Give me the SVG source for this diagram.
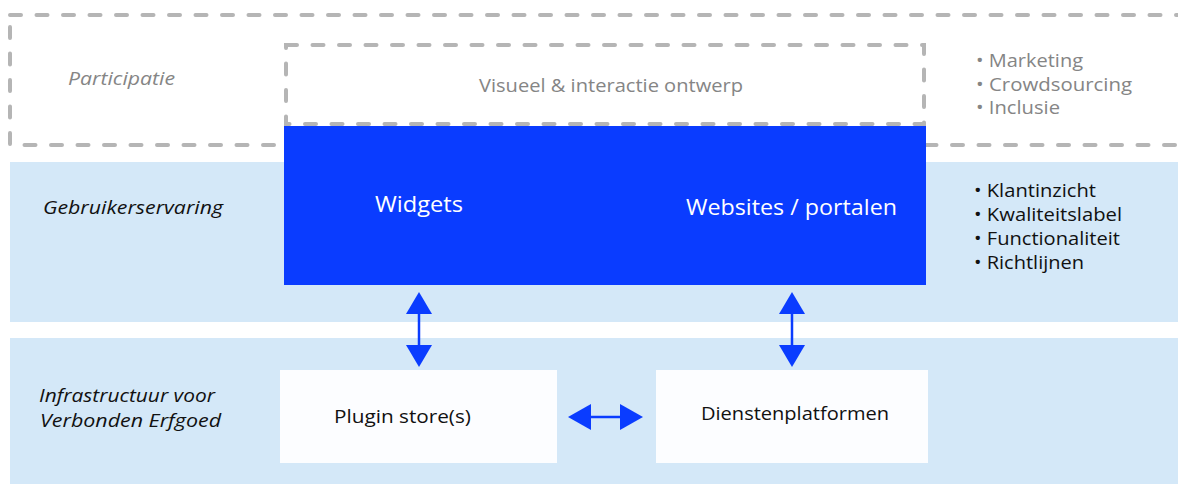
<svg xmlns="http://www.w3.org/2000/svg" width="1178" height="484" viewBox="0 0 1178 484">
<defs>
<style>
.t{font-family:"Open Sans","Noto Sans","Liberation Sans",sans-serif;}
.dash{fill:none;stroke:#b5b5b5;stroke-width:4;stroke-dasharray:11 15.5;stroke-linecap:round;}
.band{fill:#d4e8f8;}
.box{fill:#fcfdff;}
.gray{fill:#858585;}
.blk{fill:#111;}
.wht{fill:#fff;}
.arr{stroke:#0a3cff;stroke-width:2.5;fill:none;}
.head{fill:#0a3cff;}
</style>
</defs>
<rect width="1178" height="484" fill="#fff"/>
<g id="participatie">
<rect class="dash" x="10" y="15" width="1180" height="130"/>
<text class="t gray" x="68" y="85" font-size="17.5" font-style="italic" font-weight="500" textLength="107" lengthAdjust="spacingAndGlyphs">Participatie</text>
<text class="t gray" font-size="18">
<tspan x="976" y="67" textLength="107" lengthAdjust="spacingAndGlyphs">• Marketing</tspan>
<tspan x="976" y="91" textLength="156" lengthAdjust="spacingAndGlyphs">• Crowdsourcing</tspan>
<tspan x="976" y="114" textLength="84" lengthAdjust="spacingAndGlyphs">• Inclusie</tspan>
</text>
</g>
<g id="gebruikerservaring">
<rect class="band" x="10" y="162" width="1168" height="160"/>
<text class="t blk" x="43" y="214" font-size="17.5" font-style="italic" font-weight="500" textLength="180" lengthAdjust="spacingAndGlyphs">Gebruikerservaring</text>
<text class="t blk" font-size="18" font-weight="500">
<tspan x="974" y="197" textLength="122" lengthAdjust="spacingAndGlyphs">• Klantinzicht</tspan>
<tspan x="974" y="221" textLength="148" lengthAdjust="spacingAndGlyphs">• Kwaliteitslabel</tspan>
<tspan x="974" y="245" textLength="146" lengthAdjust="spacingAndGlyphs">• Functionaliteit</tspan>
<tspan x="974" y="269" textLength="110" lengthAdjust="spacingAndGlyphs">• Richtlijnen</tspan>
</text>
</g>
<g id="infrastructuur">
<rect class="band" x="10" y="338" width="1168" height="146"/>
<text class="t blk" font-size="17.5" font-style="italic" font-weight="500">
<tspan x="39" y="402" textLength="176" lengthAdjust="spacingAndGlyphs">Infrastructuur voor</tspan>
<tspan x="40" y="427" textLength="181" lengthAdjust="spacingAndGlyphs">Verbonden Erfgoed</tspan>
</text>
</g>
<g id="ontwerp">
<rect class="dash" x="286" y="45" width="638" height="79"/>
<text class="t gray" x="479" y="92" font-size="18" textLength="264" lengthAdjust="spacingAndGlyphs">Visueel &amp; interactie ontwerp</text>
</g>
<g id="frontend">
<rect x="284" y="126" width="642" height="159" fill="#0a3cff"/>
<text class="t wht" x="375" y="212" font-size="21" textLength="88" lengthAdjust="spacingAndGlyphs">Widgets</text>
<text class="t wht" x="686" y="215" font-size="21" textLength="211" lengthAdjust="spacingAndGlyphs">Websites / portalen</text>
</g>
<g id="plugin-store">
<rect class="box" x="280" y="370" width="277" height="93"/>
<text class="t blk" x="334" y="423" font-size="18" font-weight="500" textLength="137" lengthAdjust="spacingAndGlyphs">Plugin store(s)</text>
</g>
<g id="dienstenplatformen">
<rect class="box" x="656" y="370" width="272" height="93"/>
<text class="t blk" x="701" y="420" font-size="18" font-weight="500" textLength="188" lengthAdjust="spacingAndGlyphs">Dienstenplatformen</text>
</g>
<g id="connectors">
<line class="arr" x1="419" y1="310" x2="419" y2="346"/>
<polygon class="head" points="419,292 432,314 406,314"/>
<polygon class="head" points="419,367 432,345 406,345"/>
<line class="arr" x1="792" y1="310" x2="792" y2="346"/>
<polygon class="head" points="792,292 805,314 779,314"/>
<polygon class="head" points="792,367 805,345 779,345"/>
<line class="arr" x1="585" y1="417" x2="626" y2="417"/>
<polygon class="head" points="568,417 591,404 591,430"/>
<polygon class="head" points="643,417 620,404 620,430"/>
</g>
</svg>
